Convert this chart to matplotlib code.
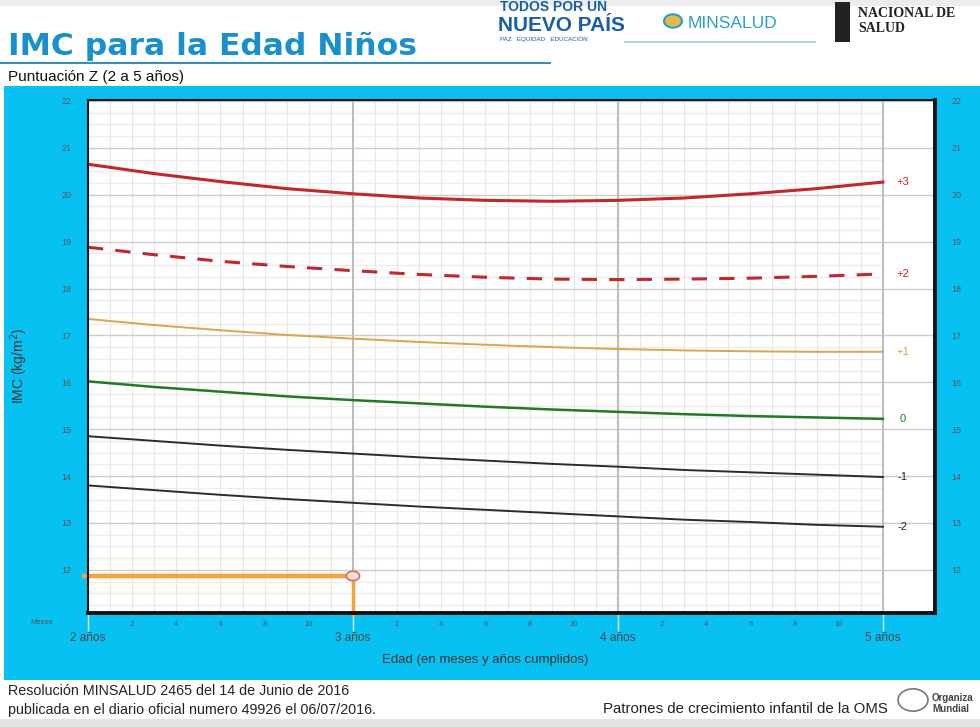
import numpy as np
import matplotlib
matplotlib.use("Agg")
import matplotlib.pyplot as plt
from matplotlib.patches import Rectangle, Circle, Ellipse

plt.rcParams['font.family'] = ['Liberation Sans', 'DejaVu Sans']

# age in months (2 to 5 years)
age = [24, 27, 30, 33, 36, 39, 42, 45, 48, 51, 54, 57, 60]

# BMI z-score curves (kg/m2)
z_p3 = [20.65, 20.45, 20.28, 20.13, 20.02, 19.93, 19.88, 19.86, 19.88, 19.93, 20.02, 20.13, 20.27]
z_p2 = [18.88, 18.72, 18.58, 18.47, 18.38, 18.30, 18.24, 18.20, 18.19, 18.20, 18.22, 18.26, 18.31]
z_p1 = [17.35, 17.22, 17.11, 17.01, 16.93, 16.86, 16.80, 16.75, 16.71, 16.68, 16.66, 16.65, 16.65]
z_0 = [16.02, 15.90, 15.80, 15.70, 15.62, 15.55, 15.48, 15.42, 15.37, 15.32, 15.28, 15.25, 15.22]
z_m1 = [14.85, 14.75, 14.65, 14.56, 14.48, 14.40, 14.33, 14.26, 14.20, 14.13, 14.08, 14.03, 13.98]
z_m2 = [13.80, 13.70, 13.60, 13.51, 13.43, 13.35, 13.28, 13.21, 13.14, 13.07, 13.02, 12.96, 12.92]

z_labels = ['+3', '+2', '+1', '0', '-1', '-2']

# plotted child
child_age = 36
child_bmi = 11.87

year_ticks = [24, 36, 48, 60]
year_labels = ['2 años', '3 años', '4 años', '5 años']
bmi_ticks = [12, 13, 14, 15, 16, 17, 18, 19, 20, 21, 22]

W, H = 980, 727
fig = plt.figure(figsize=(W / 100, H / 100), dpi=100)
fig.patch.set_facecolor('white')

def fx(px):
    return px / W

def fy(py):
    return 1 - py / H

# screenshot bands and blue panel
fig.patches.append(Rectangle((0, fy(6)), 1, 6 / H, transform=fig.transFigure,
                             facecolor='#ececec', edgecolor='none', zorder=-5))
fig.patches.append(Rectangle((0, 0), 1, 8 / H, transform=fig.transFigure,
                             facecolor='#e4e4e4', edgecolor='none', zorder=-5))
fig.patches.append(Rectangle((fx(4), fy(680)), 1 - fx(4), (680 - 86) / H,
                             transform=fig.transFigure, facecolor='#08c1f3',
                             edgecolor='none', zorder=-5))

# header
fig.text(fx(8), fy(55), 'IMC para la Edad Niños', fontsize=22.6, fontweight='bold',
         family='DejaVu Sans', color='#1790cb', ha='left', va='baseline')
fig.add_artist(plt.Line2D([0, fx(550)], [fy(63), fy(63)], color='#3a8fb8', lw=1.5))
fig.text(fx(8), fy(81), 'Puntuación Z (2 a 5 años)', fontsize=11, color='#111',
         ha='left', va='baseline')

fig.text(fx(500), fy(11), 'TODOS POR UN', fontsize=10, fontweight='bold',
         color='#1a5ea8', ha='left', va='baseline')
fig.text(fx(498), fy(31), 'NUEVO PAÍS', fontsize=15, fontweight='bold',
         color='#1a5ea8', ha='left', va='baseline')
fig.text(fx(500), fy(41), 'PAZ   EQUIDAD   EDUCACIÓN', fontsize=4.5,
         color='#1a5ea8', ha='left', va='baseline')
fig.add_artist(Circle((fx(673), fy(21)), 9 / W, transform=fig.transFigure,
                      facecolor='#e8b84a', edgecolor='#2aa0c8', lw=1.5))
fig.text(fx(688), fy(28), 'MINSALUD', fontsize=12.5, color='#2aa0c8',
         ha='left', va='baseline')
fig.add_artist(plt.Line2D([fx(625), fx(815)], [fy(42), fy(42)], color='#9fd0e2', lw=1.2))
fig.patches.append(Rectangle((fx(835), fy(42)), 15 / W, 40 / H, transform=fig.transFigure,
                             facecolor='#222', edgecolor='none'))
fig.text(fx(858), fy(17), 'NACIONAL DE', fontsize=10, fontweight='bold',
         family='Liberation Serif', color='#222', ha='left', va='baseline')
fig.text(fx(858), fy(32), 'SALUD', fontsize=10, fontweight='bold',
         family='Liberation Serif', color='#222', ha='left', va='baseline')

# footer
fig.text(fx(8), fy(695), 'Resolución MINSALUD 2465 del 14 de Junio de 2016',
         fontsize=10.3, color='#222', ha='left', va='baseline')
fig.text(fx(8), fy(714), 'publicada en el diario oficial numero 49926 el 06/07/2016.',
         fontsize=10.3, color='#222', ha='left', va='baseline')
fig.text(fx(888), fy(713), 'Patrones de crecimiento infantil de la OMS',
         fontsize=10.8, color='#222', ha='right', va='baseline')
fig.add_artist(Circle((fx(913), fy(700)), 15 / W, transform=fig.transFigure,
                      facecolor='white', edgecolor='#777', lw=1.2))
fig.text(fx(932), fy(701), 'Organiza', fontsize=7, fontweight='bold', color='#444',
         ha='left', va='baseline')
fig.text(fx(932), fy(712), 'Mundial', fontsize=7, fontweight='bold', color='#444',
         ha='left', va='baseline')

# chart axes
ax = fig.add_axes([fx(88), fy(613), (935 - 88) / W, (613 - 100) / H])
ax.set_facecolor('white')
ax.set_xlim(24, 62.36)
ax.set_ylim(11.08, 22.02)

# grid
minor_months = [m for m in range(25, 60) if m % 12 != 0]
ax.vlines(minor_months, 11.08, 22.02, color='#e6e6e6', lw=0.8, zorder=1)
minor_y = [v for v in np.arange(11.25, 22.0, 0.25) if v % 1 != 0]
ax.hlines(minor_y, 24, 60, color='#ebebeb', lw=0.8, zorder=1)
ax.hlines(bmi_ticks, 24, 62.36, color='#cccccc', lw=1.0, zorder=1)
ax.vlines(year_ticks[1:], 11.08, 22.02, color='#bdbdbd', lw=1.5, zorder=1)

# curves
ax.plot(age, z_p3, color='#c1272d', lw=2.2, zorder=3)
ax.plot(age, z_p2, color='#c1272d', lw=2.2, dashes=(5, 4), zorder=3)
ax.plot(age, z_p1, color='#d9a54e', lw=1.4, zorder=3)
ax.plot(age, z_0, color='#237a26', lw=1.8, zorder=3)
ax.plot(age, z_m1, color='#2b2b2b', lw=1.4, zorder=3)
ax.plot(age, z_m2, color='#2b2b2b', lw=1.4, zorder=3)

label_colors = ['#c1272d', '#c1272d', '#c9a050', '#237a26', '#222', '#222']
for lab, series, col in zip(z_labels, [z_p3, z_p2, z_p1, z_0, z_m1, z_m2], label_colors):
    ax.text(60.9, series[-1], lab, fontsize=8, color=col, ha='center', va='center')

# child's measurement
ax.plot([23.75, child_age], [child_bmi, child_bmi], color='#f5a33c', lw=3.2,
        solid_capstyle='butt', clip_on=False, zorder=4)
ax.plot([child_age, child_age], [child_bmi, 11.0], color='#f5a33c', lw=2.5,
        solid_capstyle='butt', clip_on=False, zorder=4)
ax.add_patch(Ellipse((child_age, child_bmi), 0.6, 0.2, facecolor='#fbe3dc',
                     edgecolor='#d9706a', lw=1.3, zorder=5))

# frame
for side in ['left', 'top']:
    ax.spines[side].set_color('#111')
    ax.spines[side].set_linewidth(1.5)
for side in ['right', 'bottom']:
    ax.spines[side].set_color('#111')
    ax.spines[side].set_linewidth(2.8)
for sp in ax.spines.values():
    sp.set_zorder(6)

# ticks
ax.set_yticks(bmi_ticks)
ax.set_yticklabels([str(v) for v in bmi_ticks])
ax.tick_params(axis='y', which='both', length=0, labelsize=6.5, labelcolor='#555',
               left=True, right=True, labelleft=True, labelright=True, pad=12)

ax.set_xticks(year_ticks)
ax.set_xticklabels(year_labels)
ax.tick_params(axis='x', which='major', length=13, width=1, color='#d8eef6',
               labelsize=8.5, labelcolor='#444', pad=1)
ax.set_xticks(minor_months, minor=True)
ax.set_xticklabels([str(m % 12) if m % 2 == 0 else '' for m in minor_months], minor=True)
ax.tick_params(axis='x', which='minor', length=0, labelsize=5.5, labelcolor='#555', pad=6)

fig.text(fx(42), fy(622), 'Meses', fontsize=5.5, color='#555', ha='center', va='center')
fig.text(fx(485), fy(660), 'Edad (en meses y años cumplidos)', fontsize=9.5,
         color='#333', ha='center', va='center')
fig.text(fx(19), fy(366), 'IMC (kg/m$^2$)', fontsize=10, color='#333',
         rotation=90, ha='center', va='center')

fig.savefig('out.png', dpi=100)
